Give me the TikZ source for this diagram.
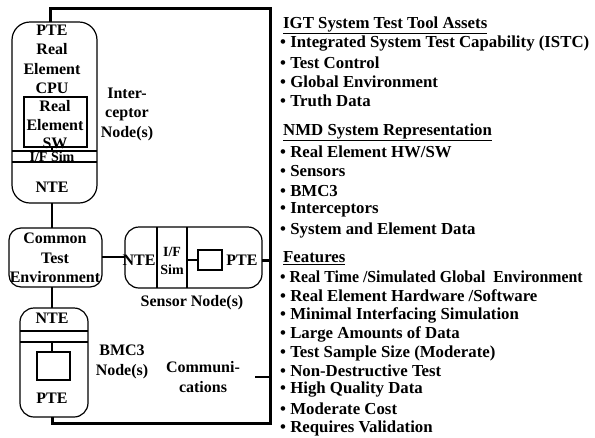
\documentclass[tikz,border=0pt]{standalone}
\usepackage{fontspec}
\setmainfont{Liberation Serif}
\newfontfamily\narrowserif[FakeStretch=0.94]{Liberation Serif}
\begin{document}
\begin{tikzpicture}[x=1pt,y=-1pt,
  thin line/.style={line width=1.2pt},
  bus/.style={line width=3pt},
  lbl/.style={font=\fontsize{16}{18.5}\selectfont\bfseries, inner sep=0pt, align=center},
  small lbl/.style={lbl, font=\fontsize{14}{16}\selectfont\bfseries},
  txt/.style={font=\fontsize{16.8}{19}\selectfont\bfseries, inner sep=0pt, anchor=west},
  nodebox/.style={draw, line width=1.2pt}]
\useasboundingbox (0,0) rectangle (595,437);

% --- Interceptor node ---
\draw[nodebox, rounded corners=18pt] (12,22) rectangle (97,203);
\node[lbl] (ipte) at (52,30) {PTE};
\node[lbl] (icpu) at (52,69) {Real\\[1pt]Element\\[1pt]CPU};
\draw[thin line] (24,97) rectangle (87,147);
\node[lbl] (isw) at (55,125) {Real\\Element\\SW};
\coordinate (iswb) at (52,147);
\coordinate (ifst) at (52,151);
\draw[thin line] (iswb) -- (ifst);
\draw[thin line] (12,151) -- (97,151);
\draw[thin line] (12,162) -- (97,162);
\node[small lbl] (ifsim) at (52,157) {I/F Sim};
\node[lbl] (inte) at (52,187) {NTE};
\coordinate (itop) at (50,22);
\coordinate (ibot) at (52,203);
\node[lbl] (ilabel) at (127,114) {Inter-\\[1pt]ceptor\\[1pt]Node(s)};

% --- Common Test Environment ---
\draw[nodebox, rounded corners=12pt] (9,228) rectangle (102,287);
\node[lbl] (cte) at (55,258) {Common\\[1pt]Test\\[1pt]Environment};
\coordinate (ctetop) at (52,228);
\coordinate (ctebot) at (52,287);
\coordinate (cteright) at (102,257);

% --- BMC3 node ---
\draw[nodebox, rounded corners=14pt] (20,308) rectangle (88,417);
\node[lbl] (bnte) at (52,318) {NTE};
\draw[thin line] (20,331) -- (88,331);
\draw[thin line] (20,342) -- (88,342);
\draw[thin line] (37,352) rectangle (70,380);
\coordinate (bsq) at (52,352);
\coordinate (bline) at (52,342);
\draw[thin line] (bline) -- (bsq);
\node[lbl] (bpte) at (52,398) {PTE};
\coordinate (btop) at (52,308);
\coordinate (bbot) at (52,417);
\node[lbl] (blabel) at (122,362) {BMC3\\[1pt]Node(s)};

% --- Sensor node ---
\draw[nodebox, rounded corners=14pt] (125,227) rectangle (262,288);
\draw[thin line] (157,227) -- (157,288);
\draw[thin line] (187,227) -- (187,288);
\node[lbl] (snte) at (139,260) {NTE};
\node[small lbl] (sifs) at (172,261) {I/F\\[2pt]Sim};
\draw[thin line] (198,250) rectangle (222,270);
\coordinate (ssql) at (198,260);
\coordinate (sifr) at (187,260);
\draw[thin line] (sifr) -- (ssql);
\node[lbl] (spte) at (242,260) {PTE};
\coordinate (sleft) at (125,257);
\coordinate (sright) at (262,260);
\node[lbl] (slabel) at (192,303) {Sensor Node(s)};

% --- Communications bus ---
\coordinate (bustop) at (270,8);
\coordinate (busbot) at (270,423);
\coordinate (bussen) at (270,260);
\coordinate (buscom) at (270,377);
\coordinate (comend) at (255,377);
\node[lbl] (comm) at (203,377) {Communi-\\[1pt]cations};

% connectors
\draw[thin line] (ibot) -- (ctetop);
\draw[thin line] (ctebot) -- (btop);
\draw[thin line] (cteright) -- (sleft);
\draw[thin line] (comend) -- (buscom);
\draw[bus, line join=miter] (bbot) |- (busbot) -- (bustop) -| (itop);
\draw[bus] (sright) -- (bussen);

% --- Text column ---
\node[txt] (h1) at (283,25) {\underline{IGT System Test Tool Assets}};
\node[txt] (a1) at (280,44) {• Integrated System Test Capability (ISTC)};
\node[txt] (a2) at (280,63) {• Test Control};
\node[txt] (a3) at (280,82) {• Global Environment};
\node[txt] (a4) at (280,101) {• Truth Data};
\node[txt] (h2) at (283,132) {\underline{NMD System Representation}};
\node[txt] (b1) at (280,152) {• Real Element HW/SW};
\node[txt] (b2) at (280,171) {• Sensors};
\node[txt] (b3) at (280,191) {• BMC3};
\node[txt] (b4) at (280,210) {• Interceptors};
\node[txt] (b5) at (280,230) {• System and Element Data};
\node[txt] (h3) at (283,258) {\underline{Features}};
\node[txt] (c1) at (280,277) {\narrowserif\bfseries • Real Time /Simulated Global\ \ Environment};
\node[txt] (c2) at (280,296) {• Real Element Hardware /Software};
\node[txt] (c3) at (280,315) {• Minimal Interfacing Simulation};
\node[txt] (c4) at (280,334) {• Large Amounts of Data};
\node[txt] (c5) at (280,353) {• Test Sample Size (Moderate)};
\node[txt] (c6) at (280,371) {• Non-Destructive Test};
\node[txt] (c7) at (280,390) {• High Quality Data};
\node[txt] (c8) at (280,409) {• Moderate Cost};
\node[txt] (c9) at (280,428) {• Requires Validation};
\end{tikzpicture}
\end{document}
